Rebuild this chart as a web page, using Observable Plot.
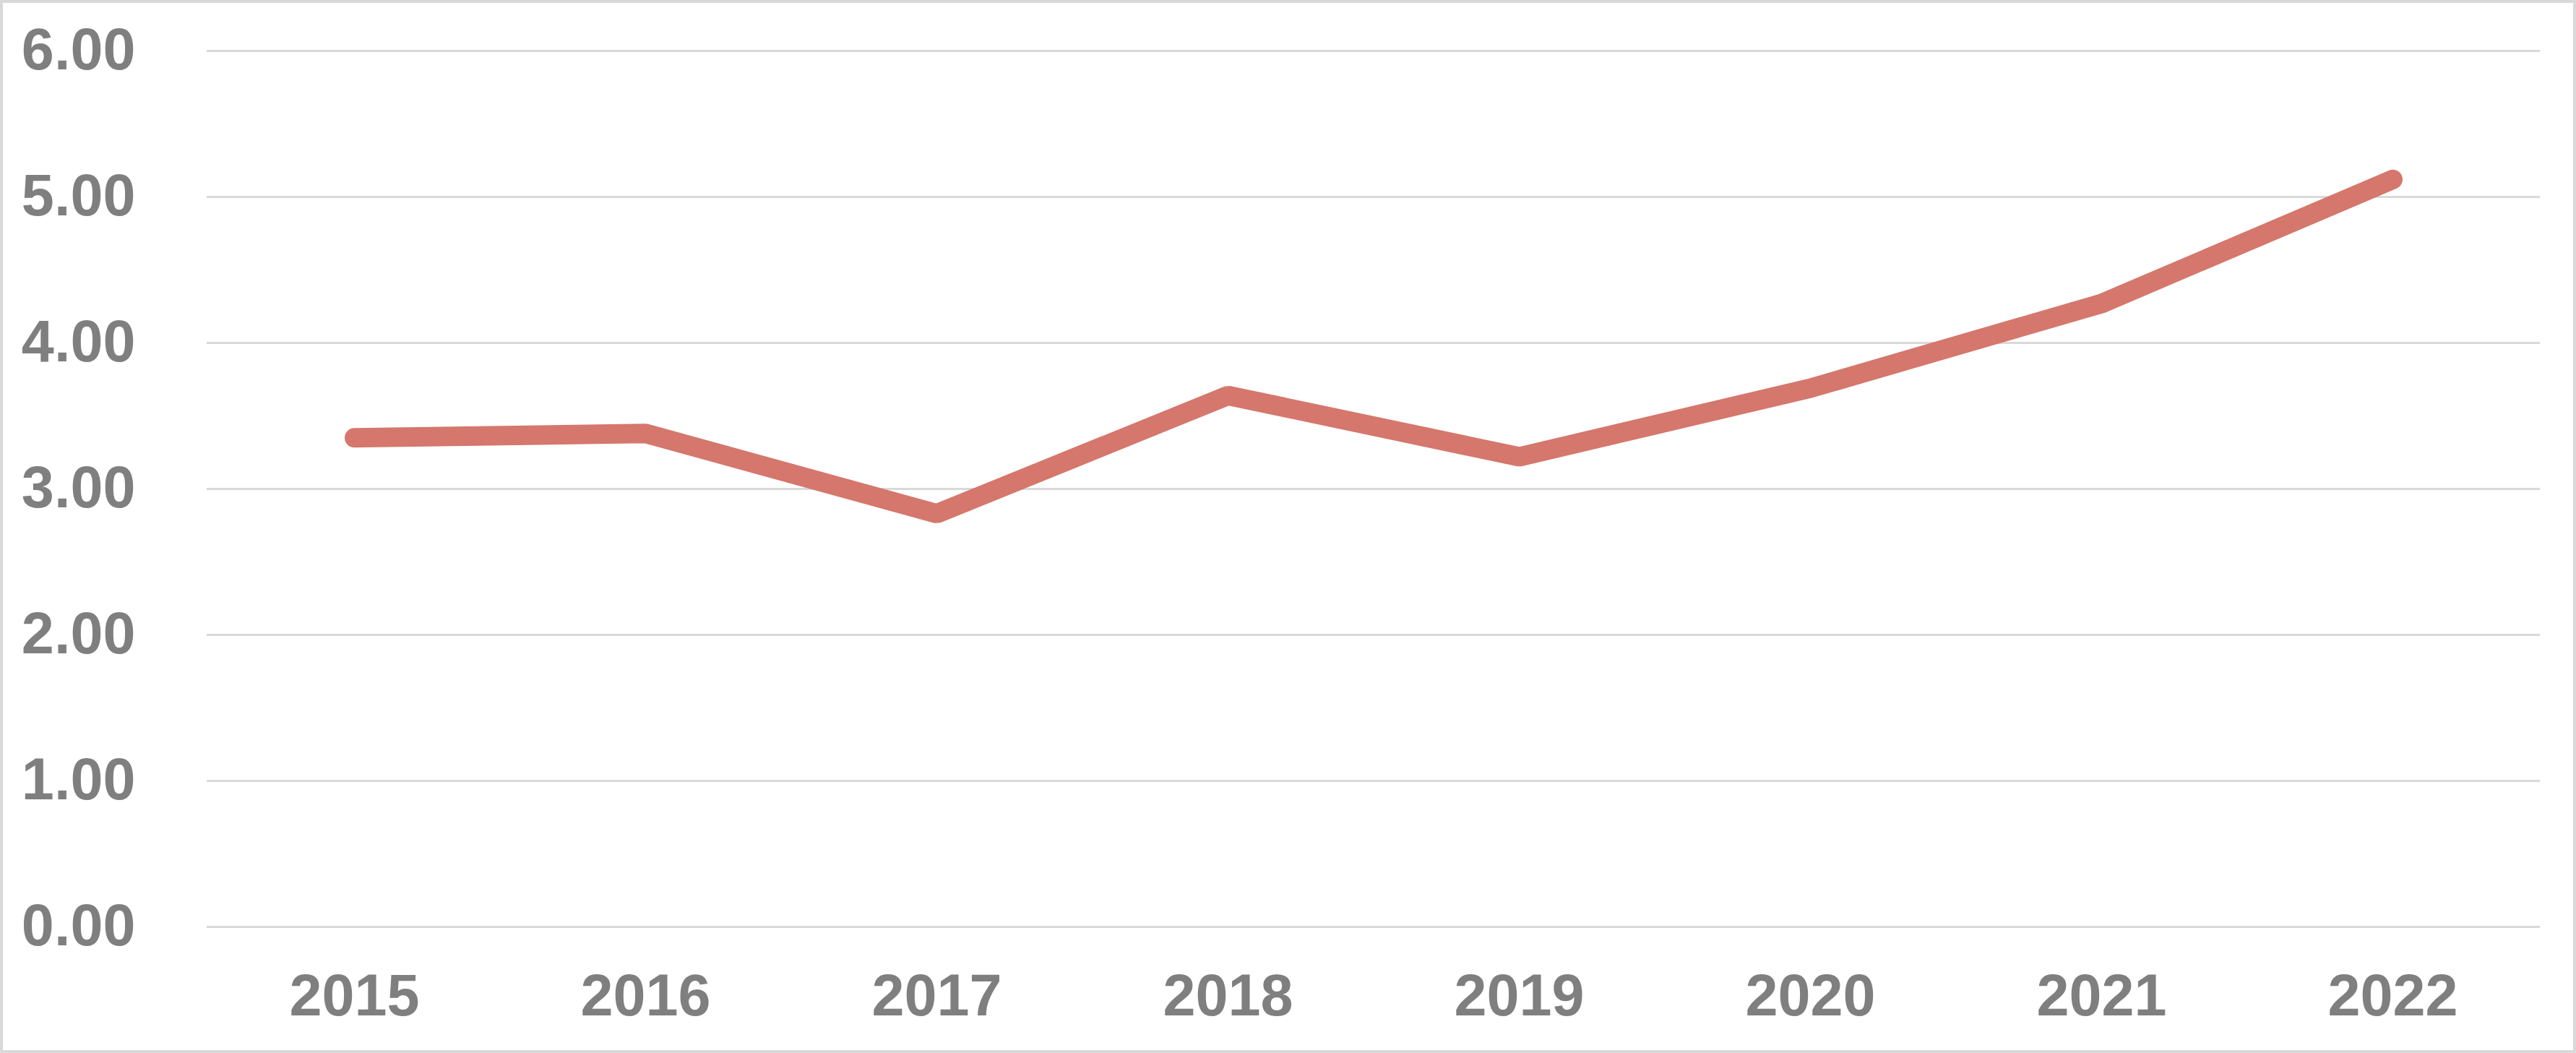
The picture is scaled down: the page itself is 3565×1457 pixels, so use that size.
<!DOCTYPE html>
<html>
<head>
<meta charset="utf-8">
<script src="https://cdn.jsdelivr.net/npm/d3@7"></script>
<script src="https://cdn.jsdelivr.net/npm/@observablehq/plot@0.6"></script>
<style>
  html, body { margin: 0; padding: 0; background: #ffffff; }
  #chart svg { display: block; outline: 4px solid #d9d9d9; outline-offset: -4px; }
</style>
</head>
<body>
<div id="chart"></div>
<script>
const years = ["2015", "2016", "2017", "2018", "2019", "2020", "2021", "2022"];
const values = [3.35, 3.38, 2.83, 3.64, 3.22, 3.69, 4.27, 5.12];
const yTicks = [0, 1, 2, 3, 4, 5, 6];

const data = years.map((year, i) => ({year, value: values[i]}));

const chart = Plot.plot({
  width: 3565,
  height: 1457,
  marginLeft: 286,
  marginRight: 50,
  marginTop: 70,
  marginBottom: 175,
  style: {
    fontFamily: "'Liberation Sans', Arial, sans-serif",
    fontWeight: "bold",
    fontSize: "81px",
    color: "#7f7f7f",
    background: "#ffffff"
  },
  x: {type: "point", domain: years, padding: 0.5, label: null},
  y: {domain: [0, 6], label: null},
  marks: [
    Plot.gridY(yTicks, {stroke: "#d9d9d9", strokeOpacity: 1, strokeWidth: 3}),
    Plot.axisY(yTicks, {
      tickSize: 0,
      tickPadding: 99,
      tickFormat: d => d.toFixed(2),
      fill: "#7f7f7f",
      fontSize: 81,
      fontWeight: "bold",
      label: null
    }),
    Plot.axisX(years, {
      tickSize: 0,
      tickPadding: 65,
      fill: "#7f7f7f",
      fontSize: 81,
      fontWeight: "bold",
      label: null
    }),
    Plot.line(data, {
      x: "year",
      y: "value",
      stroke: "#d5776c",
      strokeWidth: 27,
      strokeLinecap: "round",
      strokeLinejoin: "miter"
    })
  ]
});

document.getElementById("chart").appendChild(chart);
</script>
</body>
</html>
